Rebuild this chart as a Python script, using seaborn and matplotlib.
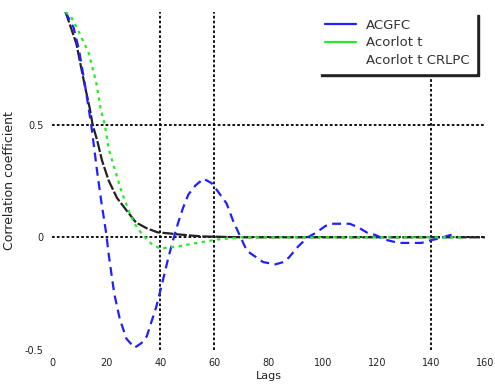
import matplotlib
matplotlib.use("Agg")
import matplotlib.pyplot as plt
import seaborn as sns
import pandas as pd
from matplotlib.lines import Line2D

# ---- data ----
series_names = ["ACGFC", "Acorlot t", "Acorlot t CRLPC"]

lag_blue = [5, 8, 10, 12, 14.5, 16.7, 18.2, 20, 21, 23, 25, 27.5, 30.5, 33, 35,
            38.5, 41, 43, 44.8, 46.5, 48.4, 50.4, 53, 56, 59, 61.5, 64.5, 67, 72, 78, 82.5,
            85.5, 87.5, 91, 94.5, 97.5, 101, 103, 110, 113, 116.5, 119.5, 123, 128, 136.5,
            140, 143, 148]
val_blue = [1.0, 0.93, 0.83, 0.69, 0.5, 0.29, 0.16, 0.02, -0.08, -0.25, -0.36, -0.45,
            -0.49, -0.47, -0.44, -0.31, -0.19, -0.09, -0.01, 0.06, 0.13, 0.19, 0.23, 0.26,
            0.24, 0.2, 0.15, 0.07, -0.06, -0.11, -0.12, -0.11, -0.09, -0.04, 0.0, 0.02, 0.05,
            0.06, 0.06, 0.045, 0.02, 0.01, -0.01, -0.025, -0.025, -0.013, -0.005, 0.013]

lag_green = [5, 7, 10, 13.5, 16.3, 18, 19.5, 21, 23, 25.5, 28.6, 30.5, 33.5, 36.8, 40, 47,
             53.5, 61, 70, 80, 90, 100, 110, 120, 130, 140, 151]
val_green = [1.0, 0.98, 0.91, 0.82, 0.69, 0.57, 0.5, 0.39, 0.31, 0.21, 0.11, 0.06, 0.01,
             -0.03, -0.05, -0.04, -0.025, -0.01, 0.0, 0.0, 0.0, 0.0, 0.0, 0.0, 0.0, 0.0, 0.0]

lag_black = [5, 7, 9, 10, 12, 14, 15, 16.7, 18.5, 21, 24, 27.5, 31, 35, 39, 43.5, 46.5,
             55, 70, 90, 110, 130, 150, 160]
val_black = [1.0, 0.93, 0.86, 0.8, 0.68, 0.57, 0.5, 0.43, 0.34, 0.25, 0.175, 0.12, 0.066,
             0.04, 0.022, 0.017, 0.013, 0.004, 0.0, 0.0, 0.0, 0.0, 0.0, 0.0]

x_ticks = [0, 20, 40, 60, 80, 100, 120, 140, 160]
y_ticks = [-0.5, 0, 0.5]
y_tick_labels = ["-0.5", "0", "0.5"]

df = pd.concat([
    pd.DataFrame({"lag": lag_blue, "value": val_blue, "series": series_names[0]}),
    pd.DataFrame({"lag": lag_green, "value": val_green, "series": series_names[1]}),
    pd.DataFrame({"lag": lag_black, "value": val_black, "series": series_names[2]}),
], ignore_index=True)

sns.set_theme(style="white")
plt.rcParams["font.family"] = ["DejaVu Sans"]

fig = plt.figure(figsize=(4.95, 3.85), dpi=100)
ax = fig.add_axes([0.105, 0.091, 0.875, 0.878])

palette = {series_names[0]: "#2020ff", series_names[1]: "#22ee22", series_names[2]: "#222222"}
sns.lineplot(data=df, x="lag", y="value", hue="series", palette=palette,
             hue_order=series_names, sort=False, estimator=None, ax=ax, legend=False,
             linewidth=1.6)

styles = [(0, (4, 2.5)), (0, (1.5, 2)), (0, (5, 1))]
zorders = [3, 4, 2]
for line, ls, z in zip(ax.lines, styles, zorders):
    line.set_linestyle(ls)
    line.set_zorder(z)

# visible dotted grid lines
grid_ls = (0, (1.5, 1.2))
for xv in [40, 60, 140]:
    ax.axvline(xv, color="black", linestyle=grid_ls, linewidth=1.3, zorder=1)
for yv in [0.5, 0]:
    ax.axhline(yv, color="black", linestyle=grid_ls, linewidth=1.3, zorder=1)

ax.set_xlim(0, 160)
ax.set_ylim(-0.5, 1.0)
ax.set_xticks(x_ticks)
ax.set_xticklabels([str(t) for t in x_ticks])
ax.set_yticks(y_ticks)
ax.set_yticklabels(y_tick_labels)
ax.tick_params(axis="both", labelsize=7, colors="#222222", length=0, pad=6)
for s in ax.spines.values():
    s.set_visible(False)

ax.set_xlabel("Lags", fontsize=8, color="#222222", labelpad=2)
ax.set_ylabel("Correlation coefficient", fontsize=9, color="#222222", labelpad=6)

handles = [Line2D([], [], color=palette[series_names[0]], lw=1.6),
           Line2D([], [], color=palette[series_names[1]], lw=1.6),
           Line2D([], [], color="white", lw=1.6)]
leg = ax.legend(handles, series_names, loc="upper right", bbox_to_anchor=(0.98, 1.0),
                borderaxespad=0.0, fontsize=9.5, frameon=True, fancybox=False,
                shadow={"color": "#222222", "alpha": 1}, edgecolor="white", framealpha=1,
                borderpad=0.5, handlelength=2.3, handletextpad=0.8, labelspacing=0.35)
for t in leg.get_texts():
    t.set_color("#333333")
leg.set_zorder(10)

fig.savefig("out.png", dpi=100)
